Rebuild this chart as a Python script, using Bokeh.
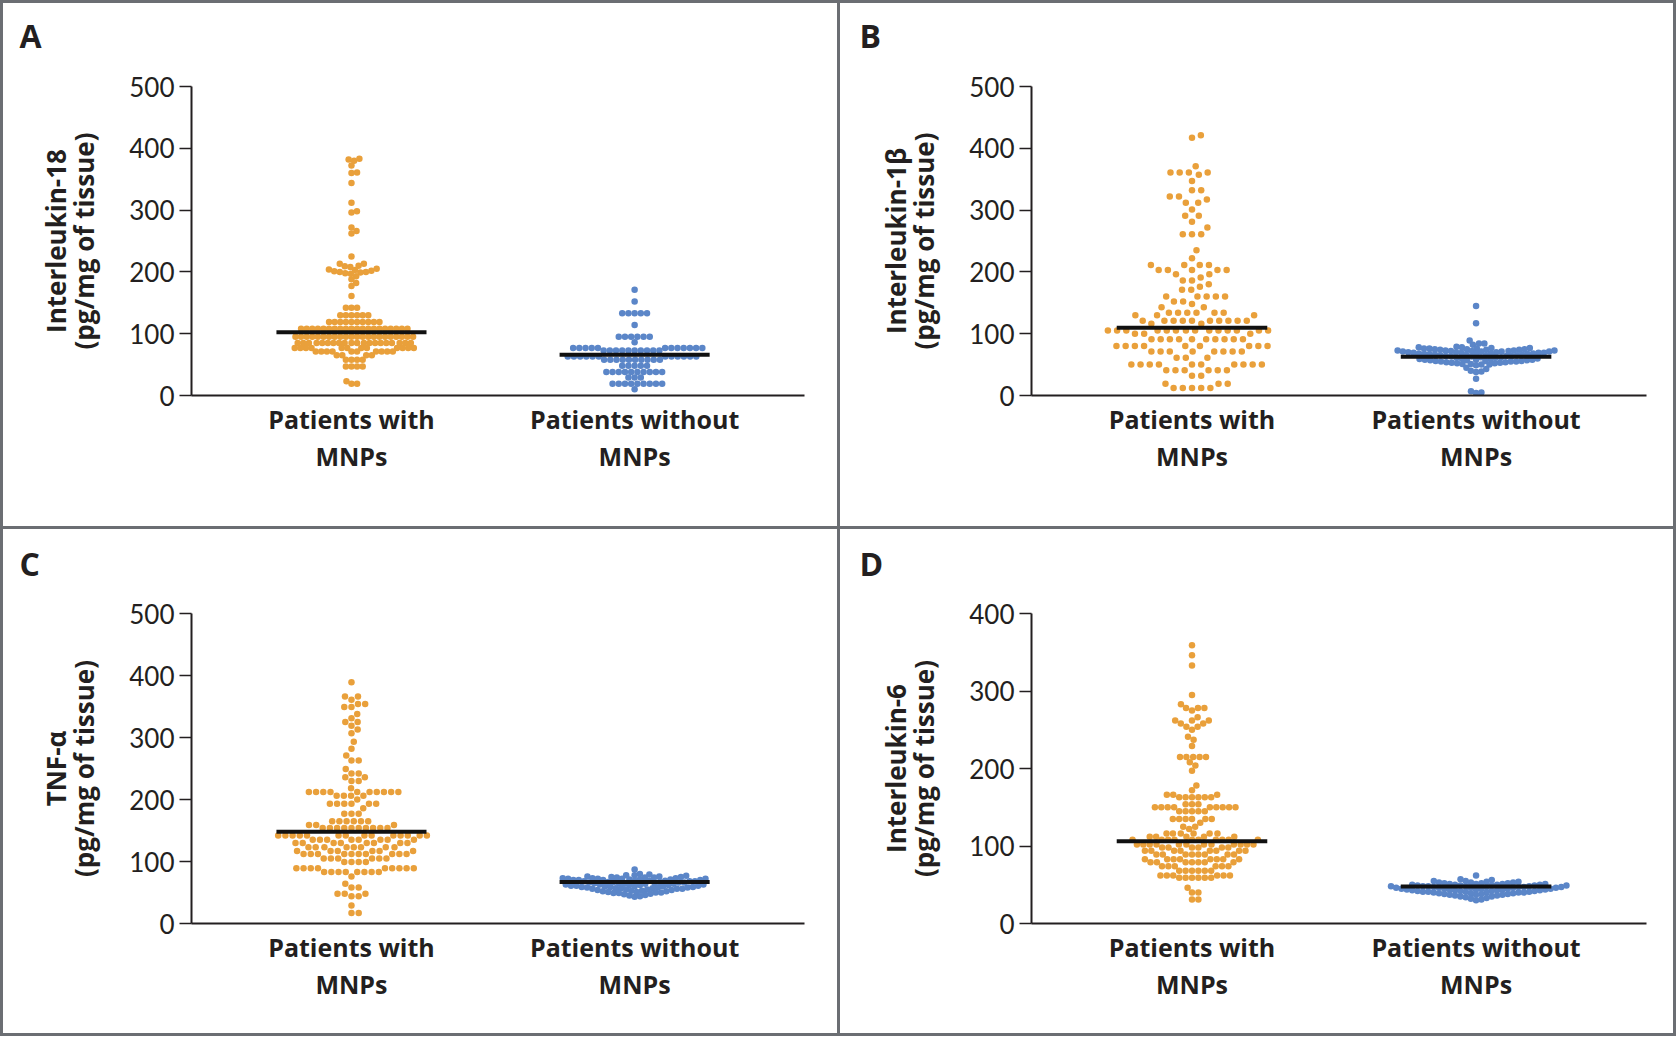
import math
from bokeh.plotting import figure
from bokeh.models import Range1d, FixedTicker, GridBox, LinearAxis, Title
from bokeh.embed import file_html
from bokeh.resources import INLINE

# ---------------- data ----------------
group_line1 = ["Patients with", "Patients without"]
group_line2 = ["MNPs", "MNPs"]
panel_letters = ["A", "B", "C", "D"]
y_title_names = ["Interleukin-18", "Interleukin-1\u03b2", "TNF-\u03b1", "Interleukin-6"]
y_title_unit = "(pg/mg of tissue)"
y_max = [500, 500, 500, 400]
y_ticks_500 = [0, 100, 200, 300, 400, 500]
y_ticks_400 = [0, 100, 200, 300, 400]

il18_with = [
    383, 382, 380, 372, 361, 360, 344, 312, 298, 296,
    272, 266, 262, 225, 213, 213, 210, 209, 208, 205,
    204, 203, 202, 201, 200, 200, 199, 198, 197, 193,
    188, 182, 177, 161, 142, 142, 142,
    130, 130, 130, 130, 130, 130,
    119, 119, 119, 119, 119, 119, 119, 119, 119, 119,
    108, 108, 108, 108, 108, 108, 108, 108, 108, 108,
    108, 108, 108, 108, 108, 108, 108, 108, 108, 108,
    95, 95, 95, 95, 95, 95, 95, 95, 95, 95, 95,
    95, 95, 95, 95, 95, 95, 95, 95, 95, 95, 95,
    85, 85, 85, 85, 85, 85, 85, 85, 85, 85,
    85, 85, 85, 85, 85, 85, 85, 85, 85, 85,
    77, 77, 77, 77, 77, 77, 77, 77, 77, 77, 77, 77,
    71, 71, 71, 71, 71, 71, 71, 71, 71, 71,
    65, 65, 65, 65, 58, 58, 58, 58, 47, 47, 47, 47,
    23, 19, 19,
]
il18_without = [
    171, 152, 133, 133, 133, 133, 133, 114,
    95, 95, 95, 95, 95, 95, 86,
    77, 77, 77, 77, 77, 77, 77, 77, 77, 77, 77, 77,
    73, 73, 73, 73, 73, 73, 73, 73, 73, 73,
    63, 63, 63, 63, 63, 63, 63, 63, 63, 63, 63, 63,
    58, 58, 58, 58, 58, 58, 58, 58, 58, 58,
    48, 48, 48, 48, 48,
    38, 38, 38, 38, 38, 38, 38, 38, 38, 38,
    29, 29, 29,
    19, 19, 19, 19, 19, 19, 19, 19, 19,
    10,
]
il1b_with = [
    421, 417, 371, 361, 361, 361, 361, 357, 347, 332,
    332, 322, 322, 317, 312, 312, 301, 291, 291, 281,
    272, 261, 261, 261, 235, 222, 211, 211, 211, 211,
    203, 203, 203, 203, 203, 196, 196, 191, 186, 186,
    180, 176, 171, 171, 160, 160, 160, 160, 160, 152,
    152, 148, 143, 143, 134, 134, 134, 134, 134, 134,
    130, 130, 130,
    121, 121, 121, 121, 121, 121, 121, 121, 121, 121,
    116, 116,
    105, 105, 105, 105, 105, 105, 105, 105, 105, 105, 105, 105, 105, 105,
    100, 100, 100,
    91, 91, 91, 91, 91, 91, 91, 91, 91, 91,
    80, 80, 80, 80, 80, 80, 80, 80, 80,
    71, 71, 71, 71, 71, 71, 71, 71,
    61, 61, 61,
    50, 50, 50, 50, 50, 50, 50, 50, 50, 50,
    41, 41, 41, 41, 41, 41,
    32, 32, 19, 19, 19, 12, 12, 12, 12, 12,
]
il1b_without = [
    145, 117, 89, 84, 84, 82,
    79, 78, 78, 77, 77, 76, 76, 76, 75, 75, 75, 74, 74, 74,
    73, 73, 73, 73, 72, 72, 72, 71, 71, 71, 71, 70, 70, 70,
    69, 69, 69, 69, 68, 68, 68, 67, 67, 67, 67, 66, 66, 66,
    65, 65, 65, 64, 64, 64, 63, 63, 62, 62, 61, 61, 60, 60,
    59, 59, 58, 58, 58, 57, 57, 57, 56, 56, 56, 55, 55, 55,
    54, 54, 53, 53, 52, 52, 51, 51, 50, 50, 49,
    45, 43, 40, 39, 38, 27, 7, 5, 4,
]
tnf_with = [
    389, 366, 366, 361, 354, 354, 349, 349, 338, 331,
    325, 325, 319, 313, 307, 293, 282, 271, 263, 263,
    249, 242, 242, 236, 236, 230, 230, 218,
    212, 212, 212, 212, 212, 212, 212, 212, 212, 212,
    206, 206, 206, 206, 200,
    193, 193, 193, 193, 193, 193, 186, 177, 177, 177,
    165, 165, 165, 165, 165, 165, 159, 159, 159,
    154, 154, 154, 154, 154, 154, 154, 154, 154, 154,
    142, 142, 142, 142, 142, 142, 142, 142, 142, 142, 142, 142, 142, 142,
    135, 135, 135, 135, 135, 135, 135, 135,
    130, 130, 130, 130, 130, 130, 130, 130,
    123, 123, 123, 123, 123, 123, 123, 123,
    117, 117, 117, 117, 117, 117,
    112, 112, 112, 112, 112, 112, 112, 112, 112, 112,
    105, 105, 105, 105, 105, 105, 99, 99, 99, 99,
    89, 89, 89, 89, 89, 89, 89, 89, 89,
    83, 83, 83, 83, 83, 83, 83, 83,
    76, 64, 58, 58, 48, 48, 48, 44, 44, 29, 17, 17,
]
tnf_without = [
    87, 80, 79, 78, 78, 77, 76, 76, 75, 75, 74, 74, 74,
    73, 73, 73, 72, 72, 72, 72, 71, 71, 71, 70, 70, 70, 70,
    69, 69, 69, 68, 68, 68, 67, 67, 67, 66, 66, 66,
    65, 65, 65, 64, 64, 64, 63, 63, 63, 62, 62, 62,
    61, 61, 61, 60, 60, 60, 59, 59, 59, 58, 58, 58,
    57, 57, 57, 56, 56, 56, 55, 55, 54, 54, 53, 53,
    52, 52, 51, 51, 50, 50, 49, 49, 48, 47, 46, 45, 44, 43,
]
il6_with = [
    359, 346, 333, 295, 283, 278, 278, 278, 275, 266,
    262, 262, 262, 258, 258, 254, 254, 250, 241, 237,
    229, 215, 215, 215, 215, 215, 208, 204, 197, 178,
    172, 166, 166, 166, 163, 163, 163, 163, 163, 163,
    154, 154, 154, 150, 150, 150, 150, 150, 150, 150, 150, 150,
    145, 145, 145, 145, 145, 135, 135, 135, 135, 135, 135,
    130, 125, 125, 122, 116, 116, 116, 116, 116, 116,
    112, 112, 112, 112, 112,
    108, 108, 108, 108, 108, 108, 108, 108, 108, 108,
    102, 102, 102, 102, 102, 102, 102, 102, 102, 102, 102, 102,
    98, 98, 98, 98, 98, 98,
    94, 94, 94, 94, 94, 94, 94, 94,
    89, 89, 89, 89, 89, 89, 89, 89,
    83, 83, 83, 83, 83, 83, 83, 83,
    79, 79, 79, 79, 79, 79, 79,
    74, 74, 74, 74, 74, 74, 68, 68, 68, 68, 68, 68,
    62, 62, 62, 62, 62, 62, 59, 59, 59, 59, 59, 59,
    46, 40, 40, 31, 31,
]
il6_without = [
    62, 57, 56, 55, 55, 54, 54, 53, 53, 53, 52, 52, 52,
    51, 51, 51, 51, 50, 50, 50, 50, 49, 49, 49, 49, 49,
    48, 48, 48, 48, 48, 47, 47, 47, 47, 47, 46, 46, 46, 46, 46,
    45, 45, 45, 45, 45, 44, 44, 44, 44, 44, 43, 43, 43, 43,
    42, 42, 42, 42, 41, 41, 41, 41, 40, 40, 40, 40,
    39, 39, 39, 38, 38, 38, 37, 37, 37, 36, 36, 35, 35,
    34, 33, 32, 31, 30,
]
medians_with = [102.5, 109.5, 148, 106]
medians_without = [66, 62.6, 67, 47.7]

series_with = [il18_with, il1b_with, tnf_with, il6_with]
series_without = [il18_without, il1b_without, tnf_without, il6_without]

# ---------------- style ----------------
ORANGE = "#E9A03B"
BLUE = "#5B86C8"
INK = "#231F20"
BORDER = "#6B6E73"
BOLD_FONT = "Open Sans"
TICK_FONT = "Lato"
X_LO, X_HI = -0.565, 1.6
HALF_MEDIAN = 0.265
DOT = 6.5
SPACING_WITH = [5.6, 9.2, 7.2, 6.4]
SPACING_WITHOUT = [6.2, 5.4, 5.4, 5.4]

# panel geometry (width, height, borders)
W_LEFT, W_RIGHT = 834, 833
H_TOP, H_BOT = 523, 504
geom = [
    dict(w=W_LEFT, h=H_TOP, l=188, r=33, t=83, b=131, gap=21),
    dict(w=W_RIGHT, h=H_TOP, l=191, r=27, t=83, b=131, gap=21),
    dict(w=W_LEFT, h=H_BOT, l=188, r=33, t=84, b=110, gap=20),
    dict(w=W_RIGHT, h=H_BOT, l=191, r=27, t=84, b=110, gap=20),
]


def swarm(vals, px_per_y, dist):
    """Greedy beeswarm: horizontal pixel offsets so that dots do not overlap."""
    order = sorted(range(len(vals)), key=lambda i: vals[i])
    placed = []
    xs = [0.0] * len(vals)
    for i in order:
        y = vals[i] * px_per_y
        forb = []
        for yy, xx in placed:
            dy = abs(y - yy)
            if dy < dist:
                w = math.sqrt(dist * dist - dy * dy)
                forb.append((xx - w, xx + w))
        cands = [0.0]
        for a, b in forb:
            cands.append(b)
            cands.append(a)
        cands.sort(key=lambda c: (round(abs(c), 6), -c))
        for c in cands:
            if all(not (a + 1e-6 < c < b - 1e-6) for a, b in forb):
                xs[i] = c
                break
        placed.append((y, xs[i]))
    return xs


def style_label_font(ax, size):
    ax.major_label_text_font = BOLD_FONT
    ax.major_label_text_font_style = "bold"
    ax.major_label_text_font_size = size
    ax.major_label_text_color = INK


def blank_axis(**kw):
    return LinearAxis(
        ticker=FixedTicker(ticks=[]), axis_line_color=None,
        major_tick_out=0, major_tick_in=0, minor_tick_out=0, minor_tick_in=0,
        major_label_standoff=0, major_label_text_font_size="0px", **kw,
    )


plots = []
for k in range(4):
    g = geom[k]
    fw = g["w"] - g["l"] - g["r"]
    fh = g["h"] - g["t"] - g["b"]
    p = figure(
        width=g["w"], height=g["h"],
        min_border_left=g["l"], min_border_right=g["r"],
        min_border_top=g["t"], min_border_bottom=g["b"],
        x_range=Range1d(X_LO, X_HI), y_range=Range1d(0, y_max[k]),
        output_backend="svg", toolbar_location=None,
    )
    # the default axes, taken before any extra axis is added
    xa = p.below[0]
    ya = p.left[0]

    p.styles = {"background-color": "white"}
    p.outline_line_color = None
    p.grid.visible = False
    p.background_fill_color = "white"
    p.border_fill_color = "white"

    # spacer between the frame and the panel letter, then the letter
    p.add_layout(blank_axis(
        axis_label=" ", axis_label_text_font_size="1px",
        axis_label_standoff=g["gap"],
    ), "above")
    p.add_layout(Title(
        text=panel_letters[k], align="left", offset=-172, standoff=10,
        text_font=BOLD_FONT, text_font_style="bold", text_font_size="32px",
        text_color=INK,
    ), "above")

    px_x = fw / (X_HI - X_LO)
    px_y = fh / y_max[k]

    for gi, (vals, color, med) in enumerate([
        (series_with[k], ORANGE, medians_with[k]),
        (series_without[k], BLUE, medians_without[k]),
    ]):
        dist = SPACING_WITH[k] if gi == 0 else SPACING_WITHOUT[k]
        offs = swarm(vals, px_y, dist)
        xs = [gi + o / px_x for o in offs]
        p.scatter(xs, vals, size=DOT, fill_color=color, line_color=None)
        p.segment(x0=[gi - HALF_MEDIAN], x1=[gi + HALF_MEDIAN], y0=[med], y1=[med],
                  line_color="#111111", line_width=4)

    # x axis (first line of the group names)
    xa.ticker = FixedTicker(ticks=[0, 1])
    xa.major_label_overrides = {0: group_line1[0], 1: group_line1[1]}
    xa.major_tick_out = 0
    xa.major_tick_in = 0
    xa.minor_tick_out = 0
    xa.minor_tick_in = 0
    xa.axis_line_width = 2
    xa.axis_line_color = INK
    style_label_font(xa, "25px")
    xa.major_label_standoff = 6

    # second row of the group names
    xa2 = LinearAxis(
        ticker=FixedTicker(ticks=[0, 1]),
        major_label_overrides={0: group_line2[0], 1: group_line2[1]},
        axis_line_color=None, major_tick_out=0, major_tick_in=0,
        minor_tick_out=0, minor_tick_in=0, major_label_standoff=0,
    )
    style_label_font(xa2, "25px")
    p.add_layout(xa2, "below")

    # y axis with ticks and the unit line of the title
    ya.ticker = FixedTicker(ticks=y_ticks_400 if y_max[k] == 400 else y_ticks_500)
    ya.major_tick_out = 12
    ya.major_tick_in = 0
    ya.minor_tick_out = 0
    ya.minor_tick_in = 0
    ya.major_tick_line_width = 1.5
    ya.major_tick_line_color = INK
    ya.axis_line_width = 2
    ya.axis_line_color = INK
    ya.major_label_text_font = TICK_FONT
    ya.major_label_text_font_size = "26px"
    ya.major_label_text_color = INK
    ya.major_label_standoff = 5
    ya.axis_label = y_title_unit
    ya.axis_label_text_font = BOLD_FONT
    ya.axis_label_text_font_style = "bold"
    ya.axis_label_text_font_size = "26px"
    ya.axis_label_text_color = INK
    ya.axis_label_standoff = 24

    # outer line of the y title (cytokine name)
    ya2 = blank_axis(
        axis_label=y_title_names[k], axis_label_standoff=-10,
        axis_label_text_font=BOLD_FONT, axis_label_text_font_style="bold",
        axis_label_text_font_size="26px", axis_label_text_color=INK,
    )
    p.add_layout(ya2, "left")

    plots.append(p)

grid = GridBox(
    children=[(plots[0], 0, 0), (plots[1], 0, 1), (plots[2], 1, 0), (plots[3], 1, 1)],
    spacing=3,
    styles={"background-color": BORDER, "padding": "3px"},
)

open("out.html", "w").write(file_html(grid, INLINE))
